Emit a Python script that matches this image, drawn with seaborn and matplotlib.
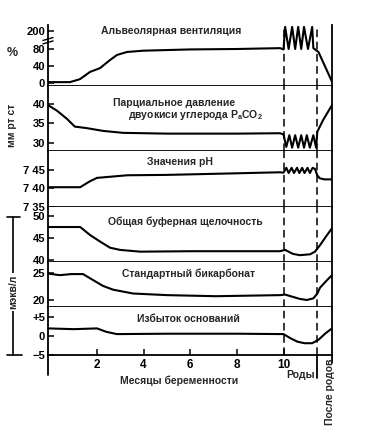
import numpy as np
import pandas as pd
import matplotlib
matplotlib.use("Agg")
import matplotlib.pyplot as plt
import matplotlib.transforms as mtransforms
import seaborn as sns

# months of pregnancy (10 = start of labour, 11.45 = delivery, after that = post partum)
vent_m = [-0.1, 0.84, 1.27, 1.7, 2.13, 2.56, 2.86, 3.29, 3.97, 6.0, 8.0, 9.85, 10.0,
          10.07, 10.22, 10.37, 10.5, 10.63, 10.76, 10.88, 11.05, 11.23, 11.28, 11.5, 12.08]
vent_v = [2, 2, 9, 26, 35, 54, 66, 73, 76, 79, 80, 82, 79,
          132, 80, 132, 80, 132, 80, 132, 80, 132, 82, 73, 3]

co2_m = [-0.1, 0.28, 0.71, 1.05, 1.57, 2.26, 3.12, 5.0, 8.0, 9.85, 10.0, 10.12, 10.25,
         10.37, 10.5, 10.63, 10.76, 10.88, 11.0, 11.13, 11.28, 11.4, 11.45, 11.7, 12.08]
co2_v = [39.7, 38.3, 36.2, 34.2, 33.8, 33.1, 32.6, 32.4, 32.4, 32.5, 32.2, 29.0, 32.0,
         28.8, 32.0, 28.8, 32.0, 28.8, 32.0, 28.8, 32.0, 28.8, 32.9, 35.9, 39.7]

ph_m = [-0.1, 1.28, 1.7, 2.0, 3.3, 5.0, 7.8, 9.85, 10.0, 10.12, 10.22, 10.35, 10.45, 10.58,
        10.68, 10.8, 10.9, 11.03, 11.13, 11.25, 11.35, 11.45, 11.55, 11.75, 12.08]
ph_v = [7.403, 7.403, 7.419, 7.428, 7.435, 7.436, 7.440, 7.443, 7.442, 7.455, 7.441, 7.455,
        7.441, 7.455, 7.441, 7.455, 7.441, 7.455, 7.441, 7.455, 7.452, 7.435, 7.427, 7.424, 7.424]

buf_m = [-0.1, 1.28, 1.7, 2.13, 2.56, 2.99, 3.85, 6.0, 8.0, 9.85, 10.07, 10.4, 10.7,
         11.14, 11.35, 11.57, 11.87, 12.08]
buf_v = [47.5, 47.5, 45.7, 44.2, 42.8, 42.3, 41.9, 42.0, 42.0, 42.0, 42.3, 41.4, 41.1,
         41.3, 41.9, 43.4, 45.7, 47.2]

bic_m = [-0.1, 0.4, 0.9, 1.4, 1.83, 2.26, 2.7, 3.55, 5.0, 7.1, 9.85, 10.07, 10.7, 11.0,
         11.28, 11.45, 11.57, 11.87, 12.08]
bic_v = [24.9, 24.6, 24.8, 24.8, 23.7, 22.6, 21.9, 21.2, 20.9, 20.7, 20.9, 21.0, 20.2, 20.0,
         20.3, 21.2, 22.3, 23.7, 24.6]

be_m = [-0.1, 1.0, 2.0, 2.4, 2.85, 5.0, 8.0, 10.0, 10.3, 10.6, 10.9, 11.23, 11.5, 11.8, 12.08]
be_v = [2.0, 1.8, 2.0, 1.1, 0.5, 0.6, 0.6, 0.5, -0.6, -1.5, -1.9, -1.9, -1.0, 0.7, 2.0]

labour_start = 10.0
delivery = 11.45
x_ticks = [2, 4, 6, 8, 10]

panels = [
    (vent_m, vent_v, (-7.1, 136.5), [0, 40, 80, 122], ["0", "40", "80", "200"]),
    (co2_m, co2_v, (27.95, 44.6), [30, 35, 40], ["30", "35", "40"]),
    (ph_m, ph_v, (7.3526, 7.50), [7.35, 7.40, 7.45], ["7 35", "7 40", "7 45"]),
    (buf_m, buf_v, (39.55, 52.05), [40, 45, 50], ["40", "45", "50"]),
    (bic_m, bic_v, (18.7, 27.04), [20, 25], ["20", "25"]),
    (be_m, be_v, (-5, 7.63), [-5, 0, 5], ["\u22125", "0", "+5"]),
]
titles = [
    ("Альвеолярная вентиляция", 171, 31),
    ("Парциальное давление", 174, 103),
    ("двуокиси углерода P$_\\mathregular{a}$CO$_\\mathregular{2}$", 195, 115),
    ("Значения pH", 180, 162),
    ("Общая буферная щелочность", 185, 222),
    ("Стандартный бикарбонат", 188, 274),
    ("Избыток оснований", 188, 319),
]

sns.set_style("white")
plt.rcParams['font.family'] = ['Liberation Sans', 'DejaVu Sans']
plt.rcParams['font.weight'] = 'bold'

W, H = 374, 446
fig = plt.figure(figsize=(W / 100, H / 100), dpi=100)
left, right = 48, 332
bounds = [25, 86, 151, 207, 262, 307, 355]

def fx(px):
    return px / W

def fy(py):
    return 1 - py / H

axes = []
for i, (mx, vy, ylim, yt, ytl) in enumerate(panels):
    top, bot = bounds[i], bounds[i + 1]
    ax = fig.add_axes([fx(left), fy(bot), (right - left) / W, (bot - top) / H])
    df = pd.DataFrame({"month": mx, "value": vy})
    sns.lineplot(data=df, x="month", y="value", ax=ax, color="black", lw=1.5,
                 estimator=None, sort=False)
    ax.set_xlim(-0.1, 12.08)
    ax.set_ylim(*ylim)
    ax.set_yticks(yt)
    ax.set_yticklabels(ytl)
    ax.set_xlabel("")
    ax.set_ylabel("")
    ax.spines["top"].set_visible(False)
    for s in ["left", "right", "bottom"]:
        ax.spines[s].set_color("black")
        ax.spines[s].set_linewidth(1.3)
    ax.tick_params(axis="y", direction="in", length=4, width=1.1, labelsize=8, pad=2,
                   left=True, colors="black")
    if i < 5:
        ax.set_xticks([])
    ax.axvline(labour_start, color="black", lw=1.1, ls=(0, (5, 3)))
    ax.axvline(delivery, color="black", lw=1.1, ls=(0, (5, 3)))
    axes.append(ax)

# x axis of the bottom panel
axb = axes[-1]
axb.set_xticks(x_ticks)
axb.set_xticklabels([str(t) for t in x_ticks])
axb.tick_params(axis="x", direction="in", length=4, width=1.1, labelsize=8.5, pad=3,
                bottom=True, colors="black")
# vertical lines continued below the axis
axb.axvline(-0.1, ymin=-0.42, ymax=0, color="black", lw=1.3, clip_on=False)
axb.axvline(delivery, ymin=-0.48, ymax=0, color="black", lw=1.3, clip_on=False)
axb.axvline(12.08, ymin=-0.17, ymax=0, color="black", lw=1.3, clip_on=False)

# break sign on the ventilation axis
ax0 = axes[0]
tr = mtransforms.blended_transform_factory(ax0.transAxes, ax0.transData)
for y0 in (92, 100):
    ax0.plot([-0.018, 0.018], [y0, y0 + 7], color="black", lw=1.0, transform=tr,
             clip_on=False)

for txt, x, y in titles:
    fig.text(fx(x), fy(y), txt, ha="center", va="center", fontsize=7.5)

fig.text(fx(179), fy(381), "Месяцы беременности", ha="center", va="center", fontsize=7.5)
fig.text(fx(301), fy(375), "Роды", ha="center", va="center", fontsize=7.5)
fig.text(fx(330), fy(392), "После родов", ha="center", va="center", fontsize=7.5,
         rotation=90)
fig.text(fx(12), fy(53), "%", ha="center", va="center", fontsize=9)
fig.text(fx(12), fy(125), "мм рт ст", ha="center", va="center", fontsize=7.5, rotation=90)

# bracket for mEq/l
fig.add_artist(plt.Line2D([fx(13), fx(13)], [fy(217), fy(355)], color="black", lw=1.2))
fig.add_artist(plt.Line2D([fx(7), fx(20)], [fy(217), fy(217)], color="black", lw=1.2))
fig.add_artist(plt.Line2D([fx(7), fx(22)], [fy(355), fy(355)], color="black", lw=1.2))
fig.text(fx(13), fy(292), "мэкв/л", ha="center", va="center", fontsize=7.5, rotation=90,
         bbox=dict(facecolor="white", edgecolor="none", pad=1))

fig.savefig("out.png", dpi=100)
